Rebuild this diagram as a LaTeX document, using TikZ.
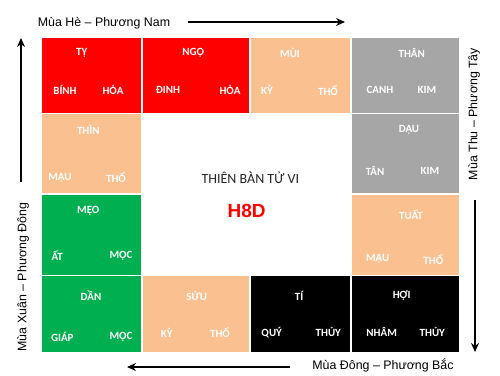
\documentclass[tikz,border=0pt]{standalone}
\usepackage{fontspec}
\setmainfont{Carlito}
\newfontfamily\arialfont{Liberation Sans}
\usetikzlibrary{arrows.meta}
\definecolor{hoared}{HTML}{FF0000}
\definecolor{thopeach}{HTML}{FAC090}
\definecolor{kimgray}{HTML}{A6A6A6}
\definecolor{mocgreen}{HTML}{00B050}
\tikzset{
  cell/.style={draw=white,line width=1.6pt},
  chi/.style={text=white,inner sep=0pt,font=\fontsize{11}{13}\selectfont\bfseries},
  side/.style={inner sep=0pt,font=\arialfont\fontsize{12.4}{14}\selectfont},
  season/.style={line width=1.4pt,-{Stealth[length=9pt,width=8pt]}},
}
\begin{document}
\begin{tikzpicture}[x=1pt,y=-1pt]
  \useasboundingbox (0,0) rectangle (500,375);
  % the twelve palaces
  \foreach \xa/\ya/\xb/\yb/\c in {41.3/37.5/141.7/113.3/hoared, 141.7/37.5/250/113.3/hoared,
      250/37.5/351/113.3/thopeach, 351/37.5/459.3/113.3/kimgray,
      41.3/113.3/141.7/194/thopeach, 351/113.3/459.3/194/kimgray,
      41.3/194/141.7/275.5/mocgreen, 351/194/459.3/275.5/thopeach,
      41.3/275.5/141.7/352.3/mocgreen, 141.7/275.5/250/352.3/thopeach,
      250/275.5/351/352.3/black, 351/275.5/459.3/352.3/black}
    \filldraw[cell,fill=\c] (\xa,\ya) rectangle (\xb,\yb);
  % branch, stem and element of each palace
  \foreach \x/\y/\t [count=\k] in {81.7/53/TỴ, 65/90/BÍNH, 113/90/HỎA,
      193.3/53/NGỌ, 168/90/ĐINH, 230/90/HỎA,
      290/53/MÙI, 267/90/KỲ, 328/90/THỔ,
      411.7/53/THÂN, 380/90/CANH, 427/90/KIM,
      88.3/130/THÌN, 60/177.7/MẬU, 116/177.7/THỔ,
      409/130/DẬU, 375/170.7/TÂN, 430/170.7/KIM,
      88.3/211/MẸO, 57.3/255.7/ẤT, 121/255.7/MỘC,
      411/214.3/TUẤT, 377.7/259/MẬU, 433.3/259/THỔ,
      91/296/DẦN, 62.3/336.7/GIÁP, 121/336.7/MỘC,
      196.7/296/SỬU, 166.7/332.7/KỲ, 220/332.7/THỔ,
      299/296/TÍ, 271.7/332.3/QUÝ, 328.3/332.3/THỦY,
      401.7/296/HỢI, 381.7/332.3/NHÂM, 432.3/332.3/THỦY}
    \node[chi] (lb\k) at (\x,\y) {\t};
  % centre
  \node[inner sep=0pt,font=\fontsize{14}{16}\selectfont,text=black!85] (title) at (250.3,177.7) {THIÊN BÀN TỬ VI};
  \node[inner sep=0pt,font=\arialfont\fontsize{19}{22}\selectfont\bfseries,text=hoared] (code) at (246.7,211.3) {H8D};
  % seasons and directions
  \node[side] (summer) at (104,23.3) {Mùa Hè – Phương Nam};
  \node[side,rotate=90] (autumn) at (474,114) {Mùa Thu – Phương Tây};
  \node[side] (winter) at (383,365.7) {Mùa Đông – Phương Bắc};
  \node[side,rotate=90] (spring) at (23,277) {Mùa Xuân – Phương Đông};
  \coordinate (s1) at (188,22);   \coordinate (s2) at (345,22);
  \coordinate (a1) at (475,200);  \coordinate (a2) at (475,352);
  \coordinate (w1) at (290,367);  \coordinate (w2) at (127,367);
  \coordinate (p1) at (21,182);   \coordinate (p2) at (21,38);
  \draw[season] (s1) -- (s2);
  \draw[season] (a1) -- (a2);
  \draw[season] (w1) -- (w2);
  \draw[season] (p1) -- (p2);
\end{tikzpicture}
\end{document}
